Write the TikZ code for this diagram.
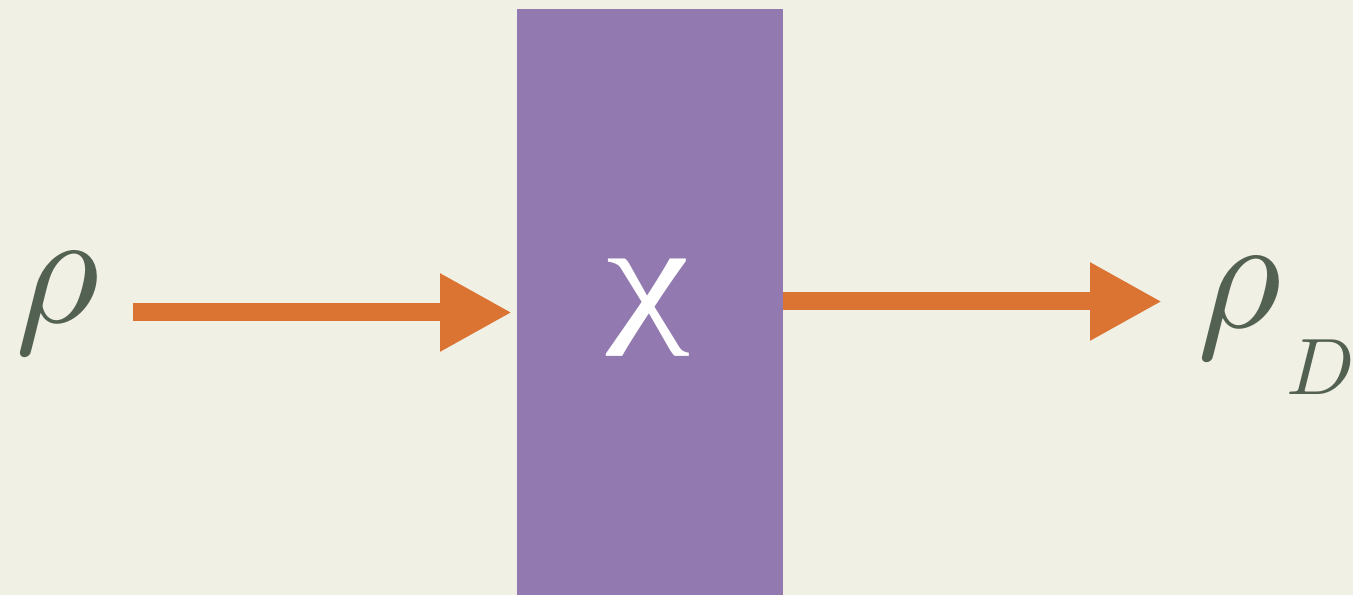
\documentclass[tikz,border=0pt]{standalone}
\usepackage{fontspec}
\setmainfont{Liberation Serif}
\usetikzlibrary{arrows.meta}
\definecolor{bgc}{HTML}{F0F0E4}
\definecolor{boxc}{HTML}{9279B0}
\definecolor{arrc}{HTML}{DB7333}
\definecolor{rhoc}{HTML}{536152}
\tikzset{
  arr/.style={draw=arrc, line width=18pt, -{Triangle[width=73pt,length=72pt]}},
  lbl/.style={inner sep=0pt, text=rhoc},
}
\begin{document}
\begin{tikzpicture}[x=1pt,y=1pt]
\fill[bgc] (0,0) rectangle (1353,595);
\useasboundingbox (0,0) rectangle (1353,595);
\node[fill=boxc, minimum width=266pt, minimum height=586pt, inner sep=0pt, anchor=south west] (box) at (517,0) {};
\node[inner sep=0pt, text=white, anchor=base, xscale=1.3] (chi) at (648,269) {\fontsize{145}{145}\selectfont χ};
\node[lbl, anchor=base west, scale=16.3] (rho) at (12,272) {$\rho$};
\node[lbl, anchor=base west, scale=16.3] (rhoD) at (1194,267) {$\rho$};
\node[lbl, anchor=base west, scale=8] (D) at (1285,200) {$D$};
\coordinate (a1) at (133,282.5);
\coordinate (b2) at (1162,293.5);
\draw[arr, shorten >=5pt] (a1) -- (a1 -| box.west);
\draw[arr] (b2 -| box.east) -- (b2);
\end{tikzpicture}
\end{document}
